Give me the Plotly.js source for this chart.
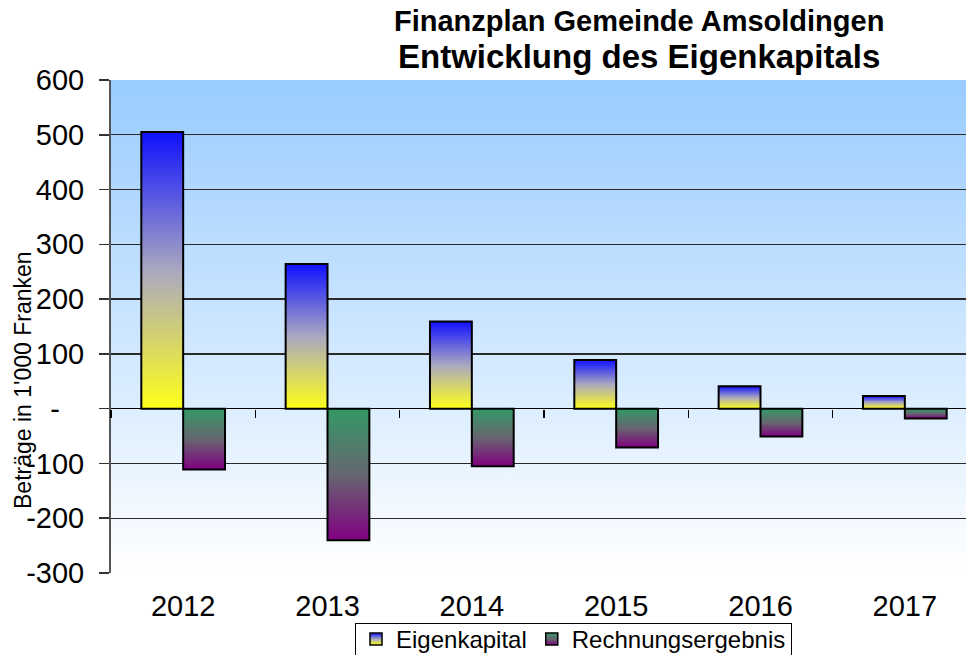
<!DOCTYPE html>
<html>
<head>
<meta charset="utf-8">
<script src="https://cdn.plot.ly/plotly-3.0.1.min.js"></script>
<style>
html, body { margin: 0; padding: 0; overflow: hidden; background: #ffffff; }
#chart { width: 980px; height: 655px; }
</style>
</head>
<body>
<div id="chart"></div>
<script>
// ---- data ----
var years = ['2012', '2013', '2014', '2015', '2016', '2017'];
var eigenkapital = [505, 264, 159, 89, 41, 23];
var rechnungsergebnis = [-111, -240, -105, -71, -51, -18];
var yTickVals = [600, 500, 400, 300, 200, 100, 0, -100, -200, -300];
var yTickText = ['600', '500', '400', '300', '200', '100', '-\u00a0\u00a0\u00a0', '-100', '-200', '-300'];
var yRange = [-300, 600];

var FONT = 'Liberation Sans, Arial, Helvetica, sans-serif';

var traces = [
  {
    type: 'bar', name: 'Eigenkapital', x: years, y: eigenkapital,
    marker: { color: '#8888dd', line: { color: '#000000', width: 2 } }
  },
  {
    type: 'bar', name: 'Rechnungsergebnis', x: years, y: rechnungsergebnis,
    marker: { color: '#557766', line: { color: '#000000', width: 2 } }
  },
  // empty trace so that the zero-line category axis (x2) gets a subplot
  { type: 'scatter', x: [], y: [], xaxis: 'x2', yaxis: 'y', showlegend: false, hoverinfo: 'skip' }
];

var zeroPos = (0 - yRange[0]) / (yRange[1] - yRange[0]);

var layout = {
  width: 980, height: 655,
  margin: { l: 111, r: 3, t: 80, b: 82, autoexpand: false },
  paper_bgcolor: '#ffffff',
  plot_bgcolor: '#cfe4fd',
  font: { family: FONT, color: '#000000' },
  barmode: 'group',
  bargap: 0.42,
  bargroupgap: 0,
  hovermode: false,
  showlegend: true,
  xaxis: {
    type: 'category', categoryorder: 'array', categoryarray: years,
    range: [-0.5, 5.5],
    showgrid: false, zeroline: false, showline: false,
    ticks: 'outside', ticklen: 7, tickcolor: 'rgba(0,0,0,0)',
    tickfont: { family: FONT, size: 29, color: '#000000' }
  },
  xaxis2: {
    type: 'category', categoryorder: 'array', categoryarray: years,
    range: [-0.5, 5.5],
    overlaying: 'x', anchor: 'free', position: zeroPos,
    showgrid: false, zeroline: false, showline: false,
    showticklabels: false,
    ticks: 'outside', tickson: 'boundaries', ticklen: 8, tickwidth: 1.5, tickcolor: '#000000'
  },
  yaxis: {
    range: yRange,
    tickvals: yTickVals, ticktext: yTickText,
    ticks: 'outside', ticklen: 10, tickwidth: 1.5, tickcolor: '#333333',
    ticklabelstandoff: 9,
    tickfont: { family: FONT, size: 29, color: '#000000' },
    showgrid: true, gridcolor: '#2a2a2a', gridwidth: 1.3,
    zeroline: true, zerolinecolor: '#000000', zerolinewidth: 1.6,
    showline: true, linecolor: '#555555', linewidth: 2
  },
  legend: {
    orientation: 'h',
    x: (355 - 111) / 866, xanchor: 'left',
    y: (573 - 623) / 493, yanchor: 'top',
    bgcolor: '#ffffff', bordercolor: '#000000', borderwidth: 1,
    font: { family: FONT, size: 24, color: '#000000' },
    itemwidth: 30, traceorder: 'normal'
  },
  annotations: [
    {
      text: '<b>Finanzplan Gemeinde Amsoldingen</b>',
      xref: 'paper', yref: 'paper', x: (639 - 111) / 866, y: (573 - 21) / 493,
      xanchor: 'center', yanchor: 'middle', showarrow: false,
      font: { family: FONT, size: 29, color: '#000000' }
    },
    {
      text: '<b>Entwicklung des Eigenkapitals</b>',
      xref: 'paper', yref: 'paper', x: (639 - 111) / 866, y: (573 - 57) / 493,
      xanchor: 'center', yanchor: 'middle', showarrow: false,
      font: { family: FONT, size: 33, color: '#000000' }
    },
    {
      text: 'Beträge in 1\'000 Franken',
      xref: 'paper', yref: 'paper', x: (23 - 111) / 866, y: (573 - 380) / 493,
      xanchor: 'center', yanchor: 'middle', showarrow: false, textangle: -90,
      font: { family: FONT, size: 23, color: '#000000' }
    }
  ]
};

var SVGNS = 'http://www.w3.org/2000/svg';
function makeGrad(defs, id, stops) {
  var old = document.getElementById(id);
  if (old) old.parentNode.removeChild(old);
  var g = document.createElementNS(SVGNS, 'linearGradient');
  g.setAttribute('id', id);
  g.setAttribute('x1', '0'); g.setAttribute('y1', '0');
  g.setAttribute('x2', '0'); g.setAttribute('y2', '1');
  stops.forEach(function (s) {
    var st = document.createElementNS(SVGNS, 'stop');
    st.setAttribute('offset', s[0]);
    st.setAttribute('stop-color', s[1]);
    g.appendChild(st);
  });
  defs.appendChild(g);
}

function applyGradients(gd) {
  var svg = gd.querySelector('svg.main-svg');
  var defs = svg.querySelector('defs');
  if (!defs) { defs = document.createElementNS(SVGNS, 'defs'); svg.insertBefore(defs, svg.firstChild); }
  makeGrad(defs, 'gradEK', [['0', '#1010ff'], ['0.5', '#aaa8c0'], ['1', '#ffff1a']]);
  makeGrad(defs, 'gradRE', [['0', '#339966'], ['0.5', '#666670'], ['1', '#800080']]);
  makeGrad(defs, 'gradBG', [['0', '#99ccff'], ['1', '#ffffff']]);

  gd.querySelectorAll('.bglayer .bg').forEach(function (r) { r.style.fill = 'url(#gradBG)'; });

  gd.querySelectorAll('.barlayer .trace').forEach(function (t, i) {
    var id = i === 0 ? 'gradEK' : 'gradRE';
    t.querySelectorAll('.point path').forEach(function (p) { p.style.fill = 'url(#' + id + ')'; });
  });

  gd.querySelectorAll('.legend .traces').forEach(function (t, i) {
    var id = i === 0 ? 'gradEK' : 'gradRE';
    t.querySelectorAll('.legendpoints path').forEach(function (p) {
      p.style.fill = 'url(#' + id + ')';
      p.style.stroke = '#000000';
      p.style.strokeWidth = '1.5px';
    });
  });

  // tighten the legend's top padding so its text sits like the reference
  gd.querySelectorAll('.legend .groups').forEach(function (g) {
    var tr = g.getAttribute('transform') || '';
    g.setAttribute('transform', tr + ' translate(0,-7)');
  });
}

var gd = document.getElementById('chart');
Plotly.newPlot(gd, traces, layout, { staticPlot: true, displayModeBar: false }).then(function () {
  applyGradients(gd);
});
</script>
</body>
</html>
